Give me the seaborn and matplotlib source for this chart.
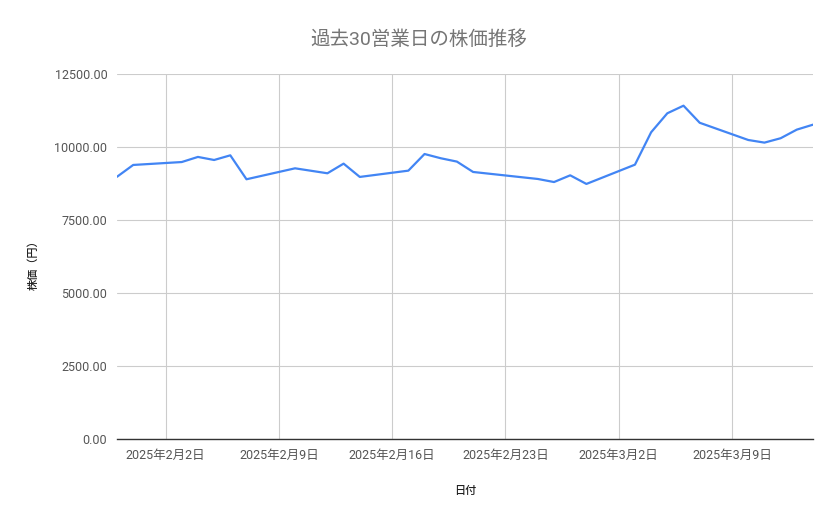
import pandas as pd
import numpy as np
import seaborn as sns
import matplotlib
matplotlib.use('Agg')
import matplotlib.pyplot as plt
import matplotlib.dates as mdates
from matplotlib.ticker import FuncFormatter

sns.set_theme(style='white')
plt.rcParams['font.family'] = ['Roboto', 'Noto Sans CJK JP', 'DejaVu Sans']

# 営業日（2/11, 2/24 は祝日で休み）
dates = ['2025-01-30', '2025-01-31',
         '2025-02-03', '2025-02-04', '2025-02-05', '2025-02-06', '2025-02-07',
         '2025-02-10', '2025-02-12', '2025-02-13', '2025-02-14',
         '2025-02-17', '2025-02-18', '2025-02-19', '2025-02-20', '2025-02-21',
         '2025-02-25', '2025-02-26', '2025-02-27', '2025-02-28',
         '2025-03-03', '2025-03-04', '2025-03-05', '2025-03-06', '2025-03-07',
         '2025-03-10', '2025-03-11', '2025-03-12', '2025-03-13', '2025-03-14']
prices = [8980, 9385, 9485, 9660, 9555, 9715, 8895,
          9270, 9100, 9430, 8975,
          9190, 9760, 9615, 9500, 9145,
          8905, 8800, 9030, 8735,
          9395, 10505, 11155, 11415, 10830,
          10240, 10150, 10300, 10595, 10765]
tick_dates = ['2025-02-02', '2025-02-09', '2025-02-16', '2025-02-23', '2025-03-02', '2025-03-09']
y_ticks = [0, 2500, 5000, 7500, 10000, 12500]

df = pd.DataFrame({'日付': pd.to_datetime(dates), '株価': prices})

fig = plt.figure(figsize=(8.39, 5.19), dpi=100)
ax = fig.add_axes([117/839, 1-439/519, (813-117)/839, (439-74)/519])

sns.lineplot(data=df, x='日付', y='株価', ax=ax, color='#4285F4', linewidth=1.6)

ax.set_xlim(df['日付'].min(), df['日付'].max())
ax.set_ylim(0, 12500)

ticks = pd.to_datetime(tick_dates)
ax.set_xticks(ticks)
ax.set_xticklabels([f'{d.year}年{d.month}月{d.day}日' for d in ticks])
ax.set_yticks(y_ticks)
ax.yaxis.set_major_formatter(FuncFormatter(lambda v, p: f'{v:.2f}'))

ax.grid(True, color='#cccccc', linewidth=0.8)
ax.set_axisbelow(True)
for s in ['top', 'right', 'left']:
    ax.spines[s].set_visible(False)
ax.spines['bottom'].set_color('#333333')
ax.spines['bottom'].set_linewidth(1.0)
ax.spines['bottom'].set_zorder(3)

ax.tick_params(axis='x', length=0, pad=7, labelsize=9, labelcolor='#555555')
ax.tick_params(axis='y', length=0, pad=7, labelsize=9, labelcolor='#555555')

ax.set_xlabel('日付', fontsize=8, color='#222222', fontweight='medium')
ax.set_ylabel('株価（円）', fontsize=8, color='#222222', fontweight='medium')
ax.xaxis.set_label_coords(0.5, -(486-439)/365)
ax.yaxis.set_label_coords((39-117)/696, (439-262)/365)

fig.text(419/839, 1-40/519, '過去30営業日の株価推移', ha='center', va='center',
         fontsize=14, color='#757575')

plt.savefig('out.png', dpi=100)
